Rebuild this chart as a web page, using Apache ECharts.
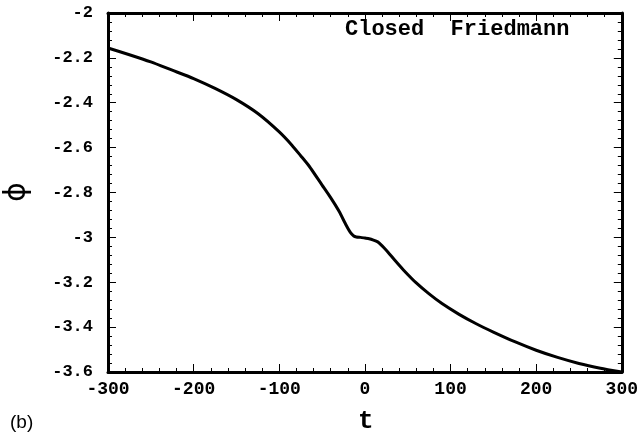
<!DOCTYPE html>
<html><head><meta charset="utf-8">
<script src="https://cdn.jsdelivr.net/npm/echarts@6/dist/echarts.min.js"></script>
<style>html,body{margin:0;padding:0;background:#fff}#c{width:641px;height:441px}</style>
</head><body><div id="c"></div>
<script>
var tValues = [-300,-275,-250,-225,-200,-175,-150,-125,-100,-85,-75,-65,-50,-40,-30,-22,-17,-13,-10,-5,0,5,10,15,18,22,27,35,45,60,75,90,110,130,150,175,200,225,250,275,300];
var phiValues = [-2.156,-2.186,-2.218,-2.255,-2.292,-2.336,-2.386,-2.448,-2.530,-2.590,-2.636,-2.683,-2.767,-2.823,-2.885,-2.945,-2.978,-2.994,-2.998,-3.000,-3.003,-3.006,-3.012,-3.020,-3.030,-3.045,-3.066,-3.102,-3.145,-3.203,-3.252,-3.295,-3.343,-3.385,-3.422,-3.465,-3.503,-3.535,-3.562,-3.583,-3.600];
var xTicks = [-300,-200,-100,0,100,200,300];
var yTicks = [-2,-2.2,-2.4,-2.6,-2.8,-3,-3.2,-3.4,-3.6];
var titleText = 'Closed  Friedmann';
var xName = 't', yName = '\u03d5', panelLabel = '(b)';

var data = tValues.map(function(t,i){return [t, phiValues[i]];});
var mono = '"Liberation Mono", "Courier New", monospace';
var axisCommon = {
  axisLine:{show:true, onZero:false, lineStyle:{color:'#000', width:3}},
  axisTick:{show:true, inside:true, length:8, lineStyle:{color:'#000', width:1}},
  minorTick:{show:true, splitNumber:5, length:4, lineStyle:{color:'#000', width:1}},
  splitLine:{show:false}
};
function ax(o){ return Object.assign({}, JSON.parse(JSON.stringify(axisCommon)), o); }
var chart = echarts.init(document.getElementById('c'), null, {renderer:'canvas'});
chart.setOption({
  animation:false,
  backgroundColor:'#fff',
  grid:{left:108, right:16, top:13, bottom:69},
  xAxis:[
    ax({type:'value', position:'bottom', min:-300, max:300, interval:100,
      axisLabel:{show:true, margin:8, color:'#000', fontFamily:mono, fontWeight:'bold', fontSize:18,
        formatter:function(v){return xTicks.indexOf(v)>=0 ? String(v) : '';}}}),
    ax({type:'value', position:'top', min:-300, max:300, interval:100, axisLabel:{show:false}})
  ],
  yAxis:[
    ax({type:'value', position:'left', min:-3.6, max:-2, interval:0.2,
      axisLabel:{show:true, margin:15, color:'#000', fontFamily:mono, fontWeight:'bold', fontSize:17,
        formatter:function(v){var r=Math.round(v*10)/10; return String(r);}}}),
    ax({type:'value', position:'right', min:-3.6, max:-2, interval:0.2, axisLabel:{show:false}})
  ],
  series:[{type:'line', data:data, smooth:0.2, showSymbol:false, symbol:'none',
    lineStyle:{color:'#000', width:3}, xAxisIndex:0, yAxisIndex:0}],
  graphic:[
    {type:'text', left:345, top:18, style:{text:titleText, fill:'#000', font:'bold 22px '+mono}},
    {type:'text', x:17, y:192, rotation:Math.PI/2, style:{text:yName, fill:'#000', font:'30px "DejaVu Sans"', align:'center', verticalAlign:'middle'}},
    {type:'text', left:358, top:408, style:{text:xName, fill:'#000', font:'bold 26px '+mono}},
    {type:'text', left:10, top:413, style:{text:panelLabel, fill:'#000', font:'19px "Liberation Sans", Arial, sans-serif'}}
  ]
});
</script></body></html>
